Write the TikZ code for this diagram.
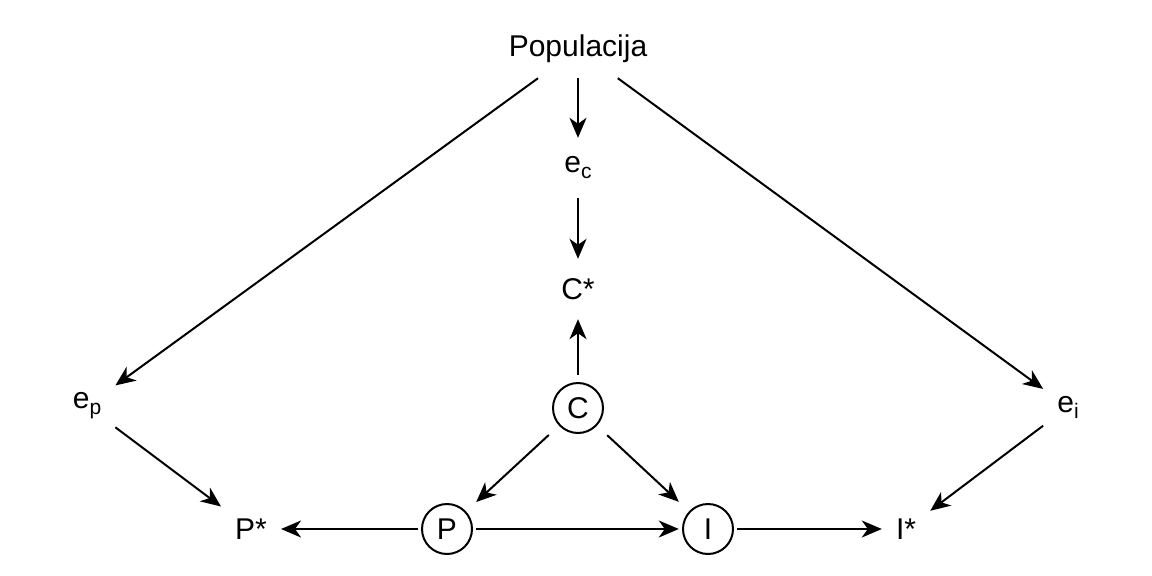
\documentclass[tikz,border=0pt]{standalone}
\usepackage{fontspec}
\setmainfont{Liberation Sans}
\usetikzlibrary{arrows.meta}
\newcommand{\mysub}[1]{\raisebox{-6pt}{\fontsize{21}{21}\selectfont #1}}
\begin{document}
\begin{tikzpicture}[x=1pt,y=-1pt,
  font=\fontsize{30}{36}\selectfont,
  lbl/.style={rectangle, inner xsep=14pt, inner ysep=2pt, minimum height=60pt},
  cnode/.style={rectangle, inner sep=0pt, minimum width=58pt, minimum height=66pt},
  arr/.style={line width=2pt, -{Stealth[length=20pt,width=17pt,inset=6pt]}},
  ring/.style={line width=2pt}]
\path[use as bounding box] (0,0) rectangle (1152,576);
\node[lbl, minimum height=58pt] (pop) at (578,49) {Populacija};
\node[lbl] (ec) at (578,168) {e\mysub{c}};
\node[lbl] (cs) at (578,289) {C*};
\node[cnode] (C) at (578,408) {C};
\node[cnode] (P) at (447,529) {P};
\node[cnode] (I) at (708,529) {I};
\node[lbl] (ps) at (251,529) {P*};
\node[lbl] (is) at (906,529) {I*};
\node[lbl] (ep) at (87,406) {e\mysub{p}};
\node[lbl] (ei) at (1068,407) {e\mysub{i}};
\foreach \n in {C,P,I} \draw[ring] (\n.center) circle[radius=25pt];
\draw[arr] (pop) -- (ep);
\draw[arr] (pop) -- (ec);
\draw[arr] (pop) -- (ei);
\draw[arr] (ec) -- (cs);
\draw[arr] (C) -- (cs);
\draw[arr] (C) -- (P);
\draw[arr] (C) -- (I);
\draw[arr] (P) -- (I);
\draw[arr] (P) -- (ps);
\draw[arr] (I) -- (is);
\draw[arr] (ep) -- (ps);
\draw[arr] (ei) -- (is);
\end{tikzpicture}
\end{document}
